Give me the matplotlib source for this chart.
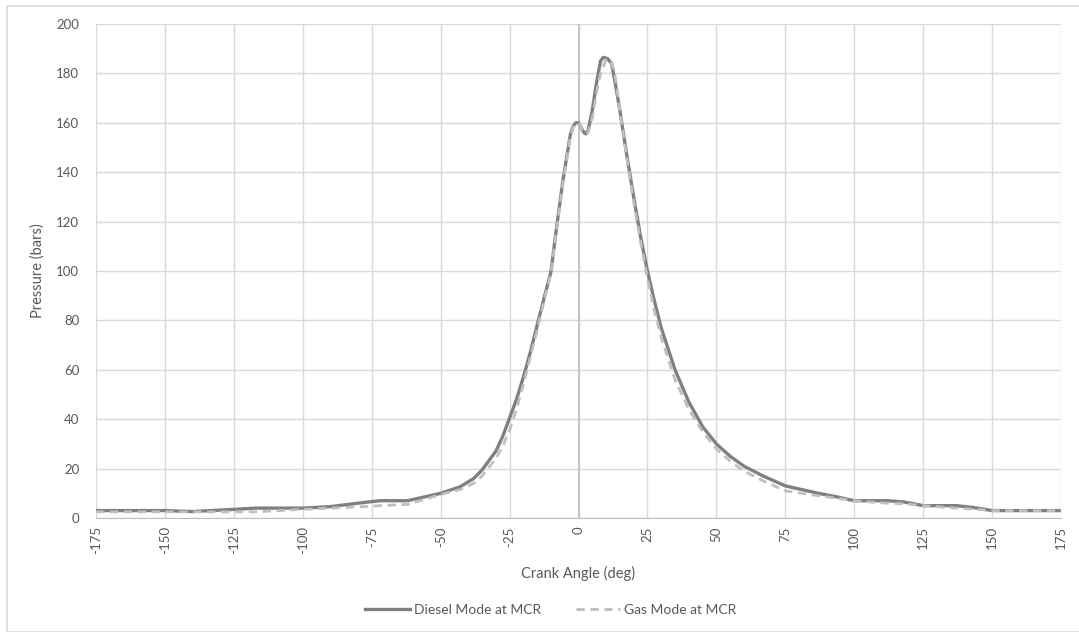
import matplotlib
matplotlib.use("Agg")
import matplotlib.pyplot as plt
from matplotlib.patches import Rectangle

angle_diesel = [-175, -150, -140, -125, -117, -100, -90, -80, -72, -62, -50, -43, -38, -35, -30,
                -27.5, -25, -22.5, -20, -17.5, -15, -12.5, -10, -7.8, -5.6, -4, -3, -2, -1, 0, 1, 2, 2.7,
                3.5, 5, 6.5, 8, 9, 10.5, 12, 13.5, 15, 17.5, 20, 22.5, 25, 27.5, 30, 35, 40, 45, 50,
                55, 60, 67, 75, 81, 87, 94, 100, 106, 112, 118, 125, 131, 137, 143, 150, 162, 175]
p_diesel = [3, 3, 2.6, 3.5, 4, 4, 4.6, 6, 7, 7, 10, 12.6, 16, 19.4, 27,
            33, 40.5, 48, 57, 67, 78, 89, 99.6, 119, 137, 148, 155, 158.5, 160, 160, 158, 156, 155.5,
            157, 165, 176, 185, 186.5, 186, 184, 175, 165, 147, 130, 114, 100, 88, 77, 60, 47, 37, 30,
            25, 21, 17, 13, 11.5, 10, 8.5, 7, 7, 7, 6.5, 5, 5, 5, 4.3, 3, 3, 3]

angle_gas = [-175, -150, -140, -125, -117, -100, -90, -80, -72, -62, -50, -43, -38, -35, -30,
             -27.5, -25, -22.5, -20, -17.5, -15, -12.5, -10, -7.8, -5.6, -4, -3, -2, -1, 0, 1, 2, 2.7,
             3.5, 5, 6.5, 8, 10, 11.5, 13, 15, 17.5, 20, 22.5, 25, 27.5, 30, 35, 40, 45, 50,
             55, 60, 67, 75, 81, 87, 94, 100, 106, 112, 118, 125, 131, 137, 143, 150, 162, 175]
p_gas = [2.5, 2.5, 2.5, 2.5, 2.5, 3.5, 4, 4.5, 5, 5.5, 9.5, 11.5, 14, 17, 24,
         29, 35.6, 44, 54, 65, 76, 88, 99, 118, 136, 147, 154, 158, 159.5, 160, 158, 156, 155.5,
         156, 162, 172, 180, 185.5, 185.5, 181, 165, 146, 128, 112, 97, 84, 73, 56, 44, 35, 28,
         23, 19, 15, 11, 10, 9, 8, 7, 6.5, 6, 5.8, 5, 4.5, 4, 3.6, 3, 3, 3]

x_ticks = list(range(-175, 176, 25))
y_ticks = list(range(0, 201, 20))

plt.rcParams['font.family'] = ['Lato', 'DejaVu Sans']

fig = plt.figure(figsize=(10.79, 6.32), dpi=100)
fig.patches.append(Rectangle((7/1079, 0), 1.2, 1 - 6/632, transform=fig.transFigure,
                             fill=False, edgecolor='#D9D9D9', linewidth=1.2))
ax = fig.add_axes([96/1079, 1 - 518/632, (1061 - 96)/1079, (518 - 24)/632])

ax.plot(angle_diesel, p_diesel, color='#808080', linewidth=2.4, label='Diesel Mode at MCR',
        solid_joinstyle='round', zorder=3)
ax.plot(angle_gas, p_gas, color='#BFBFBF', linewidth=2.0, linestyle=(0, (3, 2)),
        label='Gas Mode at MCR', zorder=4)

ax.set_xlim(-175, 175)
ax.set_ylim(0, 200)
ax.set_xticks(x_ticks)
ax.set_yticks(y_ticks)
ax.set_xticklabels([str(t) for t in x_ticks], rotation=90)
ax.grid(True, color='#D9D9D9', linewidth=1)
ax.set_axisbelow(True)
ax.axvline(0, color='#BFBFBF', linewidth=1.2, zorder=1)
for s in ['top', 'right', 'left']:
    ax.spines[s].set_visible(False)
ax.spines['bottom'].set_color('#BFBFBF')
ax.tick_params(axis='both', length=0, colors='#595959', labelsize=9.5, pad=6)
ax.tick_params(axis='y', pad=12)

ax.set_xlabel('Crank Angle (deg)', color='#595959', fontsize=10.5, labelpad=8)
ax.set_ylabel('Pressure (bars)', color='#595959', fontsize=10.5, labelpad=8)

leg = fig.legend(loc='center', bbox_to_anchor=(551/1079, 1 - 610/632), ncol=2, frameon=False,
                 fontsize=10, labelcolor='#595959', handlelength=3.2, columnspacing=2.5,
                 handletextpad=0.3)

fig.savefig('out.png', dpi=100, facecolor='white')
